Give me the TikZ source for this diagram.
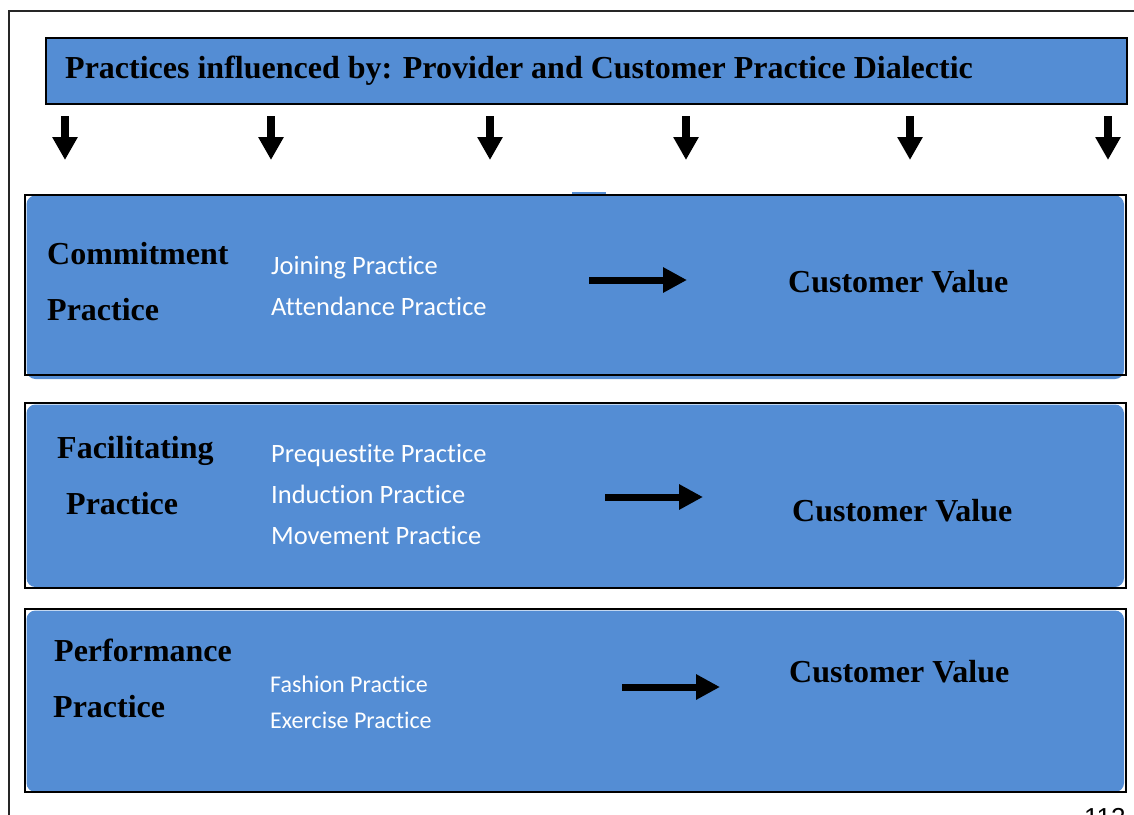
\documentclass[tikz,border=0pt]{standalone}
\usepackage{fontspec}
\setmainfont{Liberation Serif}
\newfontfamily\calfont[Ligatures={NoCommon,NoRequired,NoContextual}]{Carlito}
\newfontfamily\arialfont{Liberation Sans}
\usetikzlibrary{arrows.meta}
\definecolor{boxblue}{RGB}{84,141,212}
\begin{document}
\begin{tikzpicture}[x=1pt,y=-1pt,
  boldtxt/.style={anchor=base west, inner sep=0pt, font=\fontsize{32}{38}\selectfont\bfseries},
  whitetxt/.style={anchor=base west, inner sep=0pt, text=white, font=\calfont\fontsize{26.5}{30}\selectfont},
  whitesmall/.style={anchor=base west, inner sep=0pt, text=white, font=\calfont\fontsize{24}{28}\selectfont},
  downarrow/.style={line width=8pt, -{Triangle[length=23pt,width=24pt]}},
  rarrow/.style={line width=7pt, -{Triangle[length=24pt,width=24pt]}},
  bluebox/.style={fill=boxblue, rounded corners=9pt},
  frame/.style={line width=2pt, draw=black},
]
\useasboundingbox (0,0) rectangle (1134,814);
% outer page frame
\draw[line width=2pt, black!85] (8.5,900) -- (8.5,10.5) -- (1200,10.5);
% title
\node[draw, line width=1.5pt, fill=boxblue, anchor=north west, minimum width=1081pt, minimum height=66pt, inner sep=0pt] (title) at (45,37) {};
\node[boldtxt] (titletxt) at (65,78) {Practices influenced by: Provider and Customer Practice Dialectic};
% down arrows
\foreach \i/\x in {1/65,2/271,3/490,4/686,5/910,6/1108}{
  \coordinate (d\i s) at (\x,116);
  \coordinate (d\i e) at (\x,160);
  \draw[downarrow] (d\i s) -- (d\i e);
}
% row 1
\fill[boxblue] (572,192) rectangle (606,195);
\fill[bluebox] (26.5,195.5) rectangle (1124,379);
\draw[frame] (25,194.5) rectangle (1126,374.5);
\node[boldtxt] (c1a) at (47,264) {Commitment};
\node[boldtxt] (c1b) at (47,320) {Practice};
\node[whitetxt] (j1) at (271,274) {Joining Practice};
\node[whitetxt] (j2) at (271,315) {Attendance Practice};
\coordinate (r1s) at (589,280);
\coordinate (r1e) at (687,280);
\draw[rarrow] (r1s) -- (r1e);
\node[boldtxt] (cv1) at (788,292) {Customer Value};
% row 2
\fill[bluebox] (26.5,404.5) rectangle (1124,587);
\draw[frame] (25,403) rectangle (1126,588);
\node[boldtxt] (c2a) at (57,458) {Facilitating};
\node[boldtxt] (c2b) at (66,514) {Practice};
\node[whitetxt] (p1) at (271,462) {Prequestite Practice};
\node[whitetxt] (p2) at (271,503) {Induction Practice};
\node[whitetxt] (p3) at (271,544) {Movement Practice};
\coordinate (r2s) at (605,497);
\coordinate (r2e) at (703,497);
\draw[rarrow] (r2s) -- (r2e);
\node[boldtxt] (cv2) at (792,521) {Customer Value};
% row 3
\fill[bluebox] (26.5,610.5) rectangle (1124,792);
\draw[frame] (25,609) rectangle (1126,792);
\node[boldtxt] (c3a) at (54,661) {Performance};
\node[boldtxt] (c3b) at (53,717) {Practice};
\node[whitesmall] (f1) at (270,692) {Fashion Practice};
\node[whitesmall] (f2) at (270,728) {Exercise Practice};
\coordinate (r3s) at (622,687);
\coordinate (r3e) at (720,687);
\draw[rarrow] (r3s) -- (r3e);
\node[boldtxt] (cv3) at (789,682) {Customer Value};
% page number
\node[anchor=base west, inner sep=0pt, font=\arialfont\fontsize{26}{30}\selectfont] (pg) at (1084,826) {112};
\end{tikzpicture}
\end{document}
